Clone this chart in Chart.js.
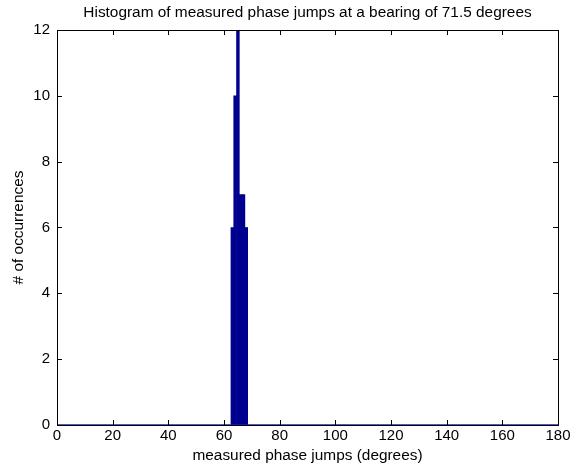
<!DOCTYPE html>
<html>
<head>
<meta charset="utf-8">
<script src="https://cdn.jsdelivr.net/npm/chart.js@4/dist/chart.umd.min.js"></script>
<style>
  html, body { margin: 0; padding: 0; background: #fff; }
  #wrap { width: 579px; height: 466px; }
</style>
</head>
<body>
<div id="wrap"><canvas id="histChart" width="579" height="466"></canvas></div>
<script>
// histogram bins (degrees) and counts
const binCenters = [63, 64, 65, 66, 67, 68];
const binCounts = [6, 10, 12, 7, 7, 6];
// zero line drawn across the whole range, as matlab does for empty bins
const baselineX = [0, 180];
const baselineY = [0, 0];

const xTicks = [0, 20, 40, 60, 80, 100, 120, 140, 160, 180];
const yTicks = [0, 2, 4, 6, 8, 10, 12];

const FONT = "'Liberation Sans', Arial, Helvetica, sans-serif";
const FSIZE = 15;
const LSIZE = 15.4;

// matlab style box with inward tick marks
const boxTicks = {
  id: 'boxTicks',
  afterDraw(chart) {
    const { ctx, chartArea: a, scales } = chart;
    ctx.save();
    ctx.strokeStyle = '#000';
    ctx.lineWidth = 1;
    ctx.beginPath();
    xTicks.forEach(v => {
      const x = Math.round(scales.x.getPixelForValue(v)) + 0.5;
      ctx.moveTo(x, a.bottom); ctx.lineTo(x, a.bottom - 5);
      ctx.moveTo(x, a.top); ctx.lineTo(x, a.top + 5);
    });
    yTicks.forEach(v => {
      const y = Math.round(scales.y.getPixelForValue(v)) + 0.5;
      ctx.moveTo(a.left, y); ctx.lineTo(a.left + 5, y);
      ctx.moveTo(a.right, y); ctx.lineTo(a.right - 5, y);
    });
    ctx.stroke();
    ctx.strokeRect(Math.round(a.left) + 0.5, Math.round(a.top) + 0.5,
      Math.round(a.right - a.left), Math.round(a.bottom - a.top));
    ctx.restore();
  }
};

new Chart(document.getElementById('histChart'), {
  type: 'bar',
  data: {
    datasets: [{
      type: 'line',
      data: baselineX.map((x, i) => ({ x, y: baselineY[i] })),
      borderColor: '#1c1cc0',
      borderWidth: 1.5,
      pointRadius: 0,
      order: 0
    }, {
      data: binCenters.map((x, i) => ({ x, y: binCounts[i] })),
      backgroundColor: '#00008f',
      borderWidth: 0,
      barPercentage: 1,
      categoryPercentage: 1,
      order: 1
    }]
  },
  options: {
    responsive: false,
    animation: false,
    layout: { padding: { top: 0, right: 21, left: 0, bottom: 0 } },
    plugins: {
      legend: { display: false },
      tooltip: { enabled: false },
      title: {
        display: true,
        fullSize: false,
        text: 'Histogram of measured phase jumps at a bearing of 71.5 degrees',
        color: '#000',
        font: { family: FONT, size: LSIZE, weight: 'normal' },
        padding: { top: 4, bottom: 7.5 }
      }
    },
    scales: {
      x: {
        type: 'linear',
        min: 0, max: 180,
        offset: false,
        grid: { display: false, drawTicks: false },
        border: { display: false },
        afterBuildTicks: s => { s.ticks = xTicks.map(v => ({ value: v })); },
        afterFit: s => { s.height = 41; },
        ticks: { color: '#000', padding: 2, maxRotation: 0, font: { family: FONT, size: FSIZE } },
        title: {
          display: true,
          text: 'measured phase jumps (degrees)',
          color: '#000',
          font: { family: FONT, size: LSIZE },
          padding: { top: 0, bottom: 1 }
        }
      },
      y: {
        min: 0, max: 12,
        grid: { display: false, drawTicks: false },
        border: { display: false },
        afterBuildTicks: s => { s.ticks = yTicks.map(v => ({ value: v })); },
        afterFit: s => { s.width = 57; },
        ticks: { color: '#000', padding: 7, font: { family: FONT, size: FSIZE } },
        title: {
          display: true,
          text: '# of occurrences',
          color: '#000',
          font: { family: FONT, size: LSIZE },
          padding: { top: 10, bottom: 0 }
        }
      }
    }
  },
  plugins: [boxTicks]
});
</script>
</body>
</html>
